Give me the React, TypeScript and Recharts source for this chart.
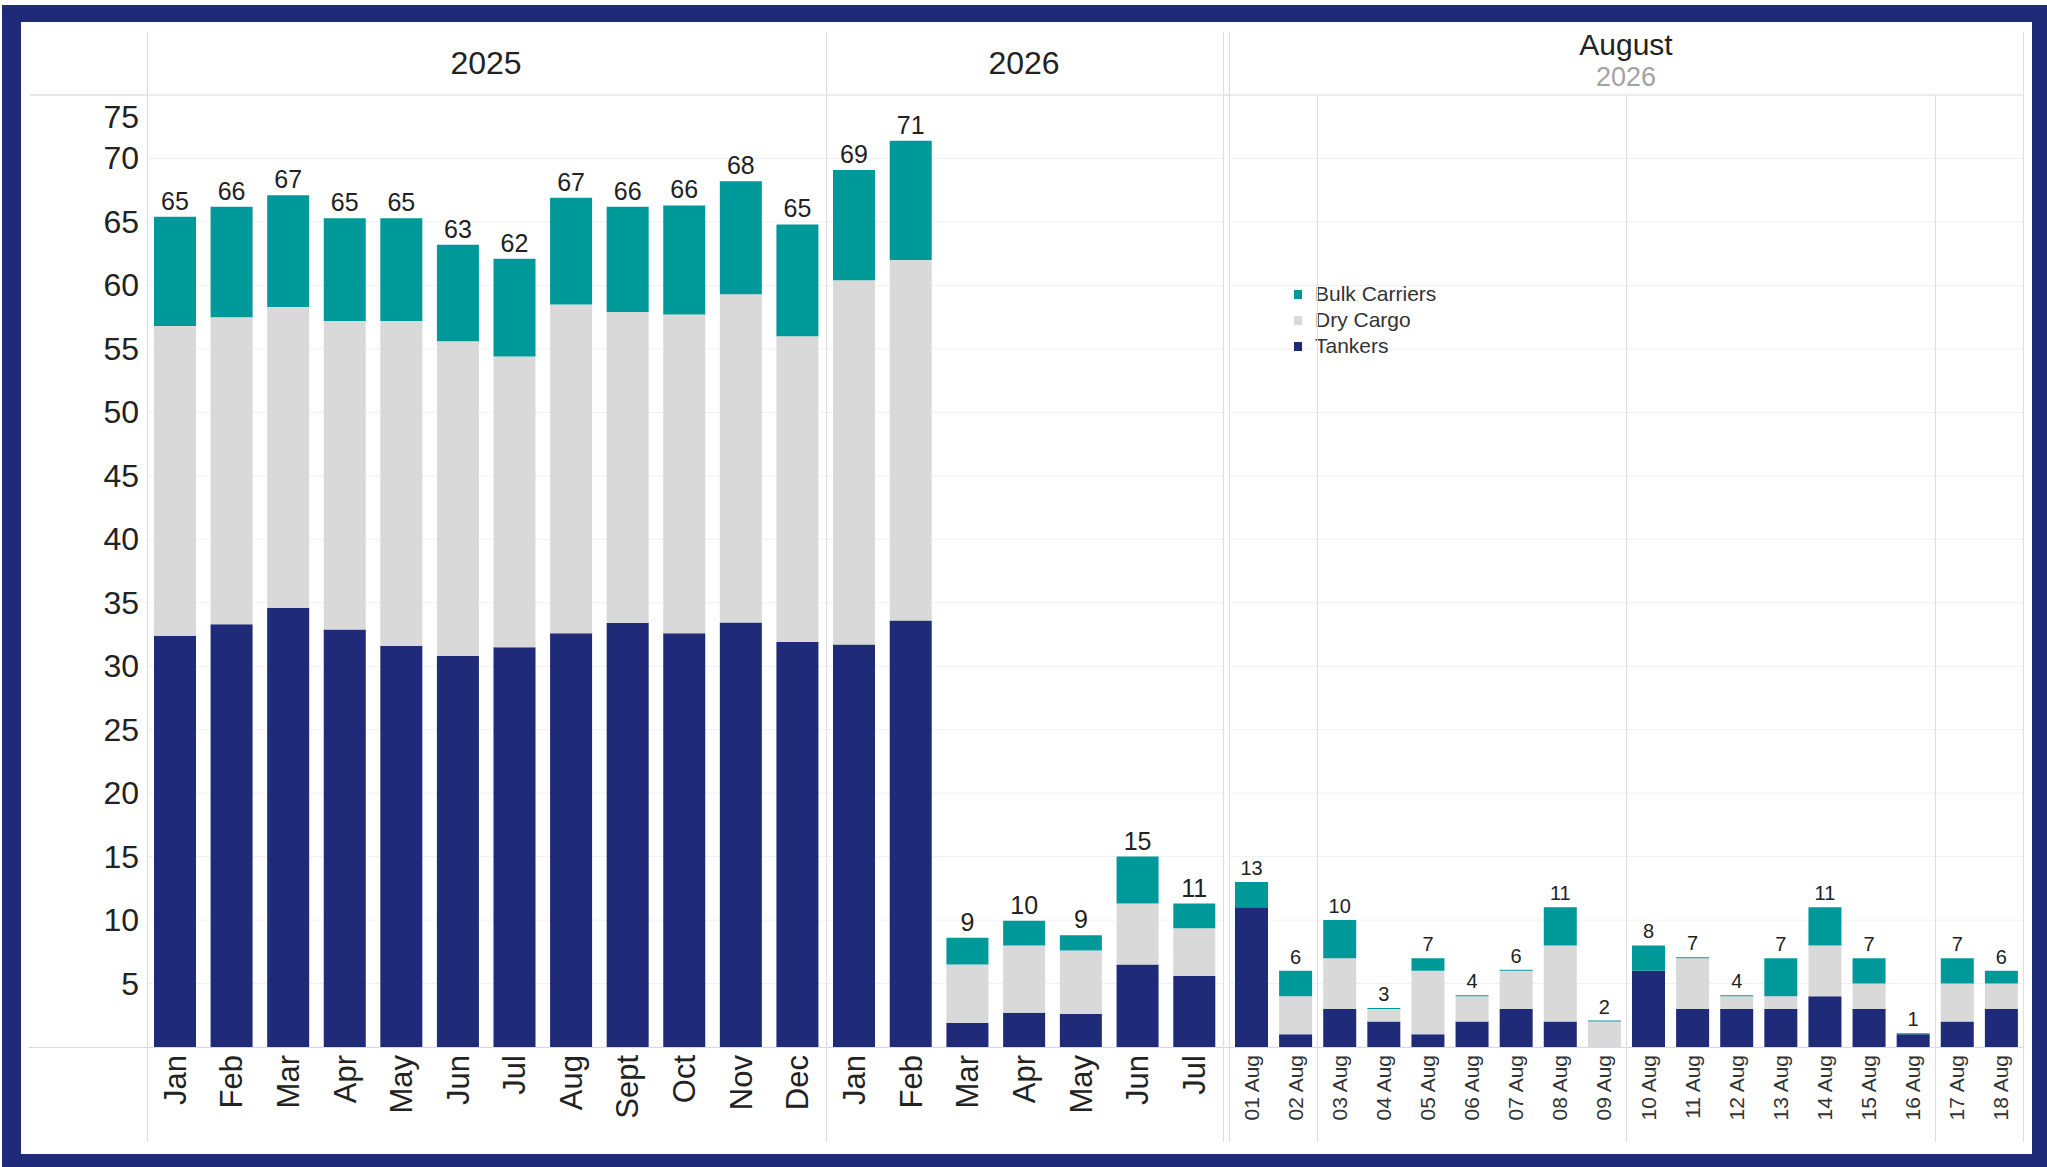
import { BarChart, Bar, XAxis, YAxis, CartesianGrid, LabelList, Legend } from "recharts";

// --- data ---
const months2025 = ["Jan", "Feb", "Mar", "Apr", "May", "Jun", "Jul", "Aug", "Sept", "Oct", "Nov", "Dec"];
const tankers2025 = [32.4, 33.3, 34.6, 32.9, 31.6, 30.8, 31.5, 32.6, 33.4, 32.6, 33.45, 31.9];
const dryCargo2025 = [24.4, 24.2, 23.7, 24.3, 25.6, 24.8, 22.9, 25.9, 24.5, 25.1, 25.85, 24.1];
const bulk2025 = [8.6, 8.7, 8.8, 8.1, 8.1, 7.6, 7.7, 8.4, 8.3, 8.6, 8.9, 8.8];

const months2026 = ["Jan", "Feb", "Mar", "Apr", "May", "Jun", "Jul"];
const tankers2026 = [31.7, 33.6, 1.9, 2.7, 2.6, 6.5, 5.6];
const dryCargo2026 = [28.7, 28.4, 4.6, 5.3, 5.0, 4.8, 3.75];
const bulk2026 = [8.7, 9.4, 2.1, 1.95, 1.2, 3.7, 1.95];

const daysAug = [
  "01 Aug", "02 Aug", "03 Aug", "04 Aug", "05 Aug", "06 Aug", "07 Aug", "08 Aug", "09 Aug",
  "10 Aug", "11 Aug", "12 Aug", "13 Aug", "14 Aug", "15 Aug", "16 Aug", "17 Aug", "18 Aug",
];
const tankersAug = [11, 1, 3, 2, 1, 2, 3, 2, 0, 6, 3, 3, 3, 4, 3, 1, 2, 3];
const dryCargoAug = [0, 3, 4, 1, 5, 2, 3, 6, 2, 0, 4, 1, 1, 4, 2, 0, 3, 2];
const bulkAug = [2, 2, 3, 0, 1, 0, 0, 3, 0, 2, 0, 0, 3, 3, 2, 0, 2, 1];

const yTicks = [5, 10, 15, 20, 25, 30, 35, 40, 45, 50, 55, 60, 65, 70, 75];

const NAVY = "#1f2a78";
const TEAL = "#00999a";
const GRAY = "#d9d9d9";
const LINE = "#dedede";
const FONT = '"Liberation Sans", Arial, sans-serif';

const buildRows = (cats: string[], t: number[], d: number[], b: number[]) =>
  cats.map((c, i) => ({
    cat: c,
    tankers: t[i],
    dry: d[i],
    bulk: b[i],
    total: Math.round(t[i] + d[i] + b[i]),
  }));

const YTick = ({ x, y, payload }: any) => (
  <text
    x={x}
    y={payload.value === 75 ? y + 22 : y}
    textAnchor="end"
    dominantBaseline="central"
    fontSize={32}
    fontFamily={FONT}
    fill="#222"
  >
    {payload.value}
  </text>
);

const makeXTick = (size: number, color: string) => ({ x, y, payload }: any) => (
  <g transform={`translate(${x},${y})`}>
    <text
      transform="rotate(-90)"
      textAnchor="end"
      dominantBaseline="central"
      fontSize={size}
      fontFamily={FONT}
      fill={color}
    >
      {payload.value}
    </text>
  </g>
);

const makeTotalLabel = (size: number) => (props: any) => {
  const { x, y, width, value } = props;
  return (
    <text
      x={Number(x) + Number(width) / 2}
      y={Number(y) - 7}
      textAnchor="middle"
      fontSize={size}
      fontFamily={FONT}
      fill="#222"
    >
      {value}
    </text>
  );
};

const LegendBox = ({ payload }: any) => (
  <div style={{ fontFamily: FONT }}>
    {(payload || []).map((p: any) => (
      <div
        key={p.value}
        style={{ display: "flex", alignItems: "center", height: 26, fontSize: 21, color: "#333" }}
      >
        <span style={{ width: 8, height: 9, background: p.color, marginRight: 13, display: "inline-block" }} />
        {p.value}
      </div>
    ))}
  </div>
);

interface PaneProps {
  rows: ReturnType<typeof buildRows>;
  left: number;
  width: number;
  barSize: number;
  labelSize: number;
  tickSize: number;
  tickColor: string;
  showY?: boolean;
  legend?: boolean;
}

function Pane({ rows, left, width, barSize, labelSize, tickSize, tickColor, showY, legend }: PaneProps) {
  return (
    <div style={{ position: "absolute", left, top: 22 }}>
      <BarChart
        width={width}
        height={1130}
        data={rows}
        margin={{ top: 73, right: 0, bottom: 0, left: 0 }}
        barSize={barSize}
      >
        <CartesianGrid vertical={false} stroke="#f1f1f1" />
        <XAxis
          dataKey="cat"
          height={105}
          interval={0}
          axisLine={false}
          tickLine={false}
          tick={makeXTick(tickSize, tickColor)}
        />
        <YAxis
          hide={!showY}
          width={126}
          domain={[0, 75]}
          ticks={yTicks}
          axisLine={false}
          tickLine={false}
          tick={<YTick />}
        />
        {legend && (
          <Legend
            layout="vertical"
            align="center"
            verticalAlign="middle"
            content={<LegendBox />}
            wrapperStyle={{ left: 65, top: 259, width: 200 }}
          />
        )}
        <Bar dataKey="tankers" name="Tankers" stackId="a" fill={NAVY} isAnimationActive={false} />
        <Bar dataKey="dry" name="Dry Cargo" stackId="a" fill={GRAY} isAnimationActive={false} />
        <Bar dataKey="bulk" name="Bulk Carriers" stackId="a" fill={TEAL} minPointSize={1} isAnimationActive={false}>
          <LabelList dataKey="total" content={makeTotalLabel(labelSize)} />
        </Bar>
      </BarChart>
    </div>
  );
}

const vLine = (x: number, top: number, bottom: number) => (
  <div
    key={`v${x}`}
    style={{ position: "absolute", left: x, top, width: 1, height: bottom - top, background: LINE }}
  />
);

const header = (text: string, cx: number, cy: number, size: number, color: string) => (
  <div
    style={{
      position: "absolute",
      left: cx,
      top: cy,
      transform: "translate(-50%, -50%)",
      fontSize: size,
      lineHeight: 1,
      color,
      fontFamily: FONT,
      whiteSpace: "nowrap",
    }}
  >
    {text}
  </div>
);

export default function App() {
  const rows2025 = buildRows(months2025, tankers2025, dryCargo2025, bulk2025);
  const rows2026 = buildRows(months2026, tankers2026, dryCargo2026, bulk2026);
  const rowsAug = buildRows(daysAug, tankersAug, dryCargoAug, bulkAug);

  // week separators in the August pane (between Sun/Mon)
  const augLeft = 1229;
  const augStep = 794 / daysAug.length;
  const weekBreaks = [2, 9, 16].map((i) => Math.round(augLeft + i * augStep));

  return (
    <div style={{ position: "absolute", left: 0, top: 0, width: 2047, height: 1167, background: "#fff" }}>
      <div
        style={{
          position: "absolute",
          left: 2,
          top: 5,
          width: 2045,
          height: 1162,
          boxSizing: "border-box",
          borderStyle: "solid",
          borderColor: NAVY,
          borderWidth: "17px 15px 13px 19px",
        }}
      />
      {/* header row */}
      <div style={{ position: "absolute", left: 30, top: 94, width: 1993, height: 2, background: "#e8e8e8" }} />
      {header("2025", 486, 63, 32, "#222")}
      {header("2026", 1024, 63, 32, "#222")}
      {header("August", 1626, 45, 30, "#222")}
      {header("2026", 1626, 77, 27, "#a3a3a3")}

      <Pane rows={rows2025} left={21} width={805} barSize={42} labelSize={25} tickSize={31} tickColor="#222" showY />
      <Pane rows={rows2026} left={826} width={397} barSize={42} labelSize={25} tickSize={31} tickColor="#222" />
      <Pane rows={rowsAug} left={augLeft} width={794} barSize={33} labelSize={20} tickSize={21} tickColor="#333" legend />

      {/* baseline */}
      <div style={{ position: "absolute", left: 29, top: 1047, width: 1994, height: 1, background: "#d9d9df" }} />

      {[147, 826, 1223, 1229, 2023].map((x) => vLine(x, 32, 1142))}
      {weekBreaks.map((x) => vLine(x, 95, 1142))}
    </div>
  );
}
